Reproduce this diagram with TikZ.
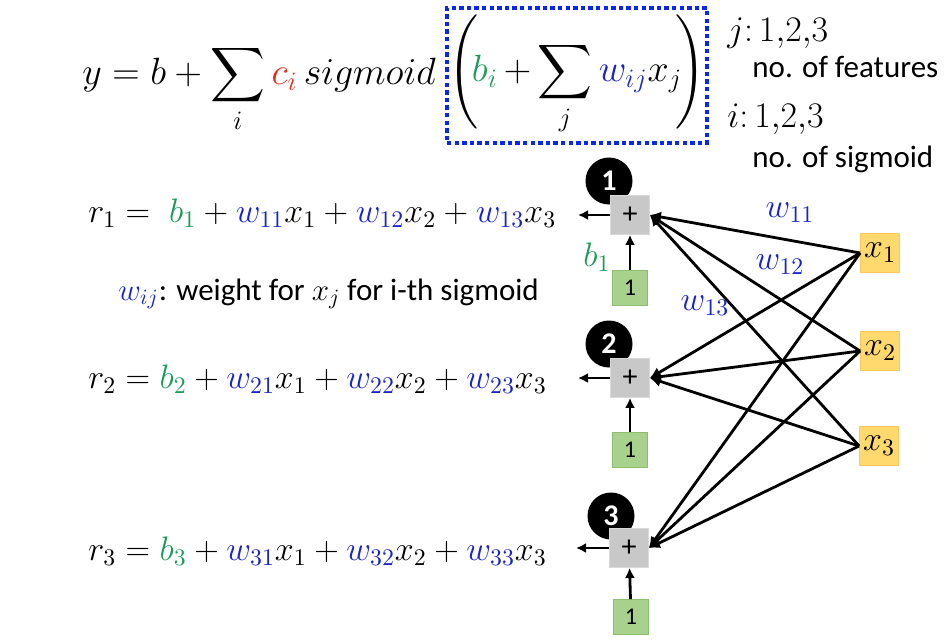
\RequirePackage{fix-cm}
\documentclass[tikz,border=0pt]{standalone}
\usepackage{fontspec}
\setmainfont{Carlito}
\DeclareFontShape{OMX}{cmex}{m}{n}{<->cmex10}{}
\usetikzlibrary{positioning}
\usetikzlibrary{arrows.meta}
\definecolor{bgreen}{RGB}{30,155,90}
\definecolor{wblue}{RGB}{25,35,200}
\definecolor{cred}{RGB}{225,45,25}
\definecolor{boxblue}{RGB}{10,40,235}
\definecolor{plusgray}{RGB}{200,200,200}
\definecolor{onegreen}{RGB}{169,209,142}
\definecolor{onegreend}{RGB}{140,190,110}
\definecolor{xyellow}{RGB}{255,217,110}
\definecolor{xorange}{RGB}{250,200,90}
\tikzset{
    plusnode/.style = {rectangle, draw=gray!30, fill=plusgray, minimum size=19.5pt, inner sep=0pt, font=\fontsize{15}{15}\selectfont},
    onenode/.style = {rectangle, draw=onegreend, fill=onegreen, minimum size=17.5pt, inner sep=0pt, font=\fontsize{12}{12}\selectfont},
    xnode/.style = {rectangle, draw=xorange, fill=xyellow, minimum size=19.5pt, inner sep=0pt, font=\fontsize{17}{17}\selectfont},
    numnode/.style = {circle, fill=black, text=white, minimum size=23.5pt, inner sep=0pt, font=\fontsize{15}{15}\bfseries\selectfont},
    eqnode/.style = {anchor=base west, inner sep=0pt, font=\fontsize{17}{20}\selectfont},
    bignode/.style = {anchor=base west, inner sep=0pt, font=\fontsize{19}{22}\selectfont},
    notenode/.style = {anchor=base west, inner sep=0pt, font=\fontsize{15.5}{18}\selectfont},
    indexnode/.style = {anchor=base west, inner sep=0pt, font=\fontsize{18}{20}\selectfont},
    wlabel/.style = {inner sep=0pt, text=wblue, font=\fontsize{17}{20}\selectfont},
    dotbox/.style = {draw=boxblue, line width=2.2pt, dash pattern=on 2.2pt off 1.6pt, minimum width=130pt, minimum height=67.5pt, inner sep=0pt, font=\fontsize{19}{22}\selectfont},
    edgew/.style = {-{Latex[length=5.5pt,width=5.5pt]}, line width=1.4pt, black},
    edgeo/.style = {-{Latex[length=5pt,width=5pt]}, line width=1.4pt, black}
}

\begin{document}
\begin{tikzpicture}[x=0.5pt, y=-0.5pt]
\useasboundingbox (0,0) rectangle (952,642);

% formula on top
\node[bignode] at (82,85) (yfull) {$y = b + \displaystyle\sum_i \textcolor{cred}{c_i}\, sigmoid$};
\node[dotbox] at (577,75.5) (inner) {\delimiterfactor=800 \delimitershortfall=15pt \medmuskip=3mu
  $\left(\!\textcolor{bgreen}{b_i} + \displaystyle\sum_j \textcolor{wblue}{w_{ij}} x_j\! \right)$};
\node[indexnode] at (727,42) (jidx) {$j{:}\,1{,}2{,}3$};
\node[notenode] at (752,78) (jnote) {no. of features};
\node[indexnode] at (727,127) (iidx) {$i{:}\,1{,}2{,}3$};
\node[notenode] at (752,167) (inote) {no. of sigmoid};

% equations
\node[eqnode] at (88,222) (r1) {$r_1 = \; \textcolor{bgreen}{b_1} + \textcolor{wblue}{w_{11}} x_1 + \textcolor{wblue}{w_{12}} x_2 + \textcolor{wblue}{w_{13}} x_3$};
\node[notenode] at (118,300) (wnote) {$\textcolor{wblue}{w_{ij}}$: weight for $x_j$ for i-th sigmoid};
\node[eqnode] at (88,388) (r2) {$r_2 = \textcolor{bgreen}{b_2} + \textcolor{wblue}{w_{21}} x_1 + \textcolor{wblue}{w_{22}} x_2 + \textcolor{wblue}{w_{23}} x_3$};
\node[eqnode] at (88,560) (r3) {$r_3 = \textcolor{bgreen}{b_3} + \textcolor{wblue}{w_{31}} x_1 + \textcolor{wblue}{w_{32}} x_2 + \textcolor{wblue}{w_{33}} x_3$};

% sigmoid units
\node[numnode] at (609,181) (n1) {1};
\node[numnode] at (609,344) (n2) {2};
\node[numnode] at (611,516) (n3) {3};
\node[plusnode] at (630,215) (p1) {+};
\node[plusnode] at (630,378) (p2) {+};
\node[plusnode] at (629,548) (p3) {+};
\node[onenode] at (630,288) (g1) {1};
\node[onenode] at (630,450) (g2) {1};
\node[onenode] at (631,617) (g3) {1};
\node[text=bgreen, inner sep=0pt, font=\fontsize{17}{20}\selectfont] at (597,257) (b1) {$b_1$};
\coordinate (o1) at (578,215);
\coordinate (o2) at (578,378);
\coordinate (o3) at (576,548);

% features
\node[xnode] at (880,253) (x1) {$x_1$};
\node[xnode] at (880,351) (x2) {$x_2$};
\node[xnode] at (879,446) (x3) {$x_3$};

\draw[edgeo] (p1) -- (o1);
\draw[edgeo] (p2) -- (o2);
\draw[edgeo] (p3) -- (o3);
\draw[edgeo] (g1) -- (p1);
\draw[edgeo] (g2) -- (p2);
\draw[edgeo] (g3) -- (p3);

\draw[edgew] (x1.west) -- (p1.east);
\draw[edgew] (x2.west) -- (p1.east);
\draw[edgew] (x3.west) -- (p1.east);
\draw[edgew] (x1.west) -- (p2.east);
\draw[edgew] (x2.west) -- (p2.east);
\draw[edgew] (x3.west) -- (p2.east);
\draw[edgew] (x1.west) -- (p3.east);
\draw[edgew] (x2.west) -- (p3.east);
\draw[edgew] (x3.west) -- (p3.east);

\node[wlabel] at (790,213) (w11) {$w_{11}$};
\node[wlabel] at (780,265) (w12) {$w_{12}$};
\node[wlabel] at (705,306) (w13) {$w_{13}$};

\end{tikzpicture}
\end{document}
